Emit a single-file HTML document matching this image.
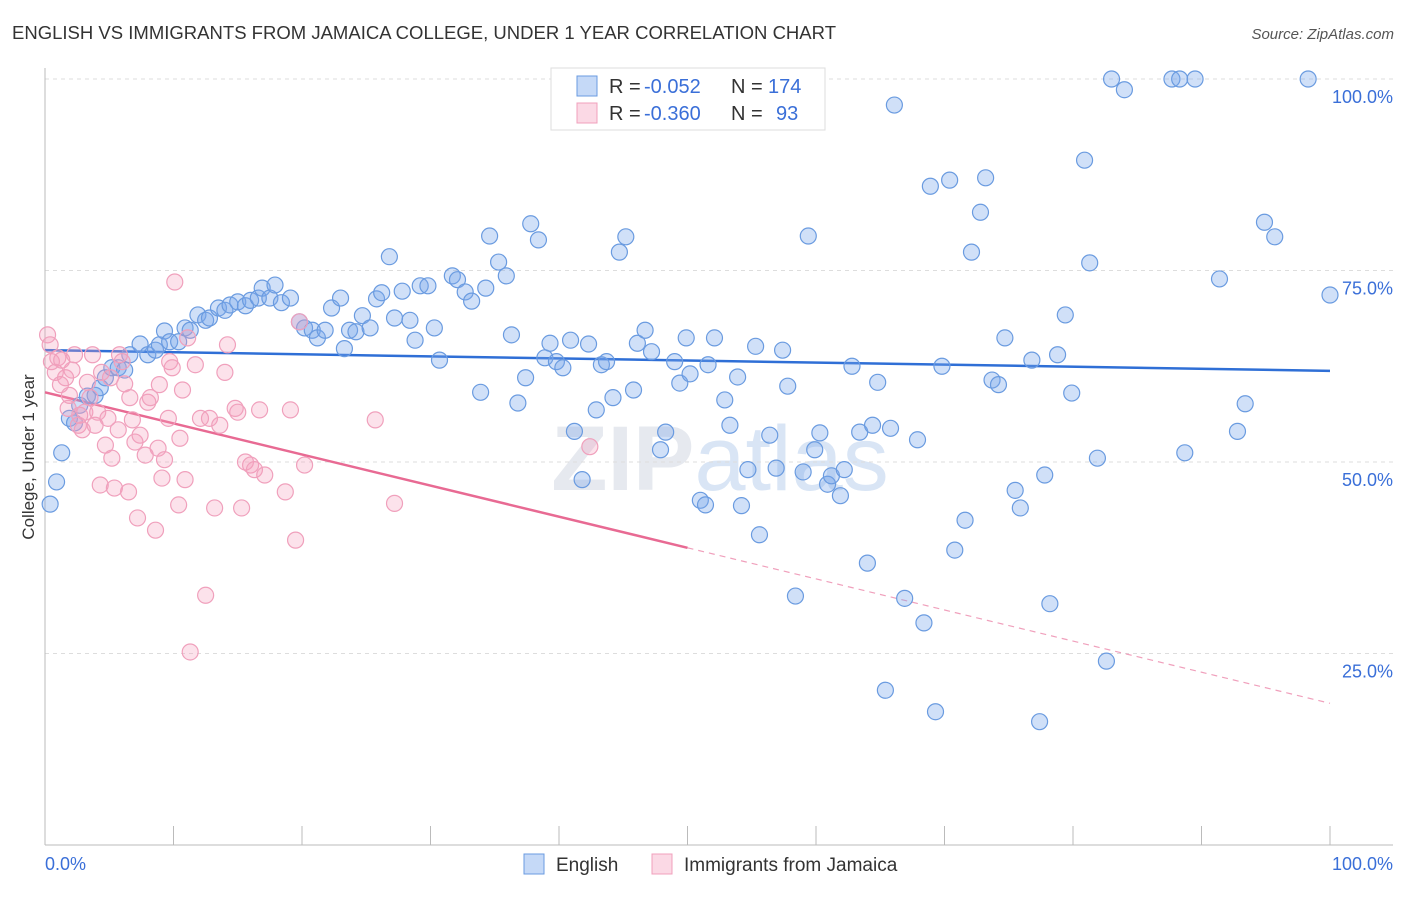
<!DOCTYPE html>
<html><head><meta charset="utf-8"><style>
body{margin:0;background:#fff;font-family:"Liberation Sans",sans-serif;}
svg text{font-family:"Liberation Sans",sans-serif;}
</style></head><body>
<svg id="chart" width="1406" height="892" viewBox="0 0 1406 892">
<text x="12" y="39" font-size="18" fill="#333" textLength="824" lengthAdjust="spacingAndGlyphs">ENGLISH VS IMMIGRANTS FROM JAMAICA COLLEGE, UNDER 1 YEAR CORRELATION CHART</text>
<text x="1394" y="39" font-size="15" fill="#555" font-style="italic" text-anchor="end">Source: ZipAtlas.com</text>
<text x="720" y="490" font-size="92" fill="#e6e9ef" text-anchor="middle" font-family="Liberation Serif" font-weight="bold">ZIP<tspan fill="#d9e5f5" font-family="Liberation Sans" font-weight="normal">atlas</tspan></text>
<g id="grid"></g><g id="axes"></g><g id="trend"></g><g id="pts"></g>
<text x="34" y="457" font-size="17" fill="#333" text-anchor="middle" transform="rotate(-90 34 457)">College, Under 1 year</text>
<g>
<rect x="551" y="68" width="274" height="62" fill="#fff" stroke="#ddd"/>
<rect x="577" y="76" width="20" height="20" fill="rgba(110,160,235,0.4)" stroke="#6a9be0"/>
<rect x="577" y="103" width="20" height="20" fill="rgba(245,160,190,0.4)" stroke="#f0a0bc"/>
<text x="609" y="93" font-size="20" fill="#333">R =</text>
<text x="644" y="93" font-size="20" fill="#3a6fd8">-0.052</text>
<text x="731" y="93" font-size="20" fill="#333">N =</text>
<text x="768" y="93" font-size="20" fill="#3a6fd8">174</text>
<text x="609" y="120" font-size="20" fill="#333">R =</text>
<text x="644" y="120" font-size="20" fill="#3a6fd8">-0.360</text>
<text x="731" y="120" font-size="20" fill="#333">N =</text>
<text x="776" y="120" font-size="20" fill="#3a6fd8">93</text>
</g>
<g>
<rect x="524" y="854" width="20" height="20" fill="rgba(110,160,235,0.4)" stroke="#6a9be0"/>
<text x="556" y="871" font-size="19" fill="#333">English</text>
<rect x="652" y="854" width="20" height="20" fill="rgba(245,160,190,0.4)" stroke="#f0a0bc"/>
<text x="684" y="871" font-size="19" fill="#333">Immigrants from Jamaica</text>
</g>
</svg>
<script>
const blueX=[0.4,0.9,1.3,1.9,2.3,2.7,3.3,3.9,4.3,4.7,5.2,5.7,6.2,6.6,7.4,8.0,8.6,8.9,9.3,9.7,10.4,10.9,11.3,11.9,12.5,12.8,13.5,14.0,14.4,15.0,15.6,16.0,16.6,16.9,17.5,17.9,18.4,19.1,19.8,20.2,20.8,21.2,21.8,22.3,23.0,23.3,23.7,24.2,24.7,25.3,25.8,26.2,26.8,27.2,27.8,28.4,28.8,29.2,29.8,30.3,30.7,31.7,32.1,32.7,33.2,33.9,34.3,34.6,35.3,35.9,36.3,36.8,37.4,37.8,38.4,38.9,39.3,39.8,40.3,40.9,41.2,41.8,42.3,42.9,43.3,43.7,44.2,44.7,45.2,45.8,46.1,46.7,47.2,47.9,48.3,49.0,49.4,49.9,50.2,51.0,51.4,51.6,52.1,52.9,53.3,53.9,54.2,54.7,55.3,55.6,56.4,56.9,57.4,57.8,58.4,59.0,59.4,59.9,60.3,60.9,61.2,61.9,62.2,62.8,63.4,64.0,64.4,64.8,65.4,65.8,66.1,66.9,67.9,68.4,68.9,69.3,69.8,70.4,70.8,71.6,72.1,72.8,73.2,73.7,74.2,74.7,75.5,75.9,76.8,77.4,77.8,78.2,78.8,79.4,79.9,80.9,81.3,81.9,82.6,83.0,84.0,87.7,88.3,88.7,89.5,91.4,92.8,93.4,94.9,95.7,98.3,100];
const blueY=[44.5,47.4,51.2,55.7,55.1,57.4,58.6,58.7,59.7,61.0,62.3,62.3,62.0,64.0,65.4,64.0,64.6,65.3,67.1,65.7,65.7,67.5,67.2,69.2,68.5,68.8,70.1,69.8,70.5,70.9,70.4,71.1,71.4,72.7,71.4,73.1,70.8,71.4,68.3,67.5,67.2,66.2,67.2,70.1,71.4,64.8,67.2,67.0,69.1,67.5,71.3,72.1,76.8,68.8,72.3,68.5,65.9,73.0,73.0,67.5,63.3,74.3,73.8,72.2,71.0,59.1,72.7,79.5,76.1,74.3,66.6,57.7,61.0,81.1,79.0,63.6,65.5,63.1,62.3,65.9,54.0,47.7,65.4,56.8,62.7,63.1,58.4,77.4,79.4,59.4,65.5,67.2,64.4,51.6,53.9,63.1,60.3,66.2,61.5,45.0,44.4,62.7,66.2,58.1,54.8,61.1,44.3,49.0,65.1,40.5,53.5,49.2,64.6,59.9,32.5,48.7,79.5,51.6,53.8,47.1,48.2,45.6,49.0,62.5,53.9,36.8,54.8,60.4,20.2,54.4,96.6,32.2,52.9,29.0,86.0,17.4,62.5,86.8,38.5,42.4,77.4,82.6,87.1,60.7,60.1,66.2,46.3,44.0,63.3,16.1,48.3,31.5,64.0,69.2,59.0,89.4,76.0,50.5,24.0,100,98.6,100,100,51.2,100,73.9,54.0,57.6,81.3,79.4,100,71.8];
const pinkX=[0.2,0.4,0.5,0.8,1.0,1.2,1.3,1.6,1.8,1.9,2.1,2.3,2.6,2.7,2.9,3.1,3.3,3.5,3.7,3.9,4.1,4.3,4.4,4.7,4.9,5.1,5.2,5.4,5.7,5.8,6.0,6.2,6.5,6.6,6.8,7.0,7.2,7.4,7.8,8.0,8.2,8.6,8.8,8.9,9.1,9.3,9.6,9.7,9.9,10.1,10.4,10.5,10.7,10.9,11.1,11.3,11.7,12.1,12.5,12.8,13.2,13.6,14.0,14.2,14.8,15.0,15.3,15.6,16.0,16.3,16.7,17.1,18.7,19.1,19.5,19.8,20.2,25.7,27.2,42.4];
const pinkY=[66.6,65.3,63.1,61.7,63.6,60.1,63.3,61.0,57.0,58.7,62.0,64.0,54.8,56.1,54.2,56.5,60.4,58.4,64.0,54.8,56.5,47.0,61.7,52.2,55.7,61.0,50.5,46.6,54.2,64.0,63.1,60.2,46.1,58.4,55.5,52.6,42.7,53.5,50.9,57.8,58.4,41.1,51.8,60.1,47.9,50.3,55.7,63.1,62.3,73.5,44.4,53.1,59.4,47.7,66.2,25.2,62.7,55.7,32.6,55.7,44.0,54.8,61.7,65.3,57.0,56.5,44.0,50.0,49.6,49.0,56.8,48.3,46.1,56.8,39.8,68.3,49.6,55.5,44.6,52.0];
const blueTrend=[64.6,61.9];
const pinkTrend=[59.1,18.5];
const pinkSolidEnd=50;
const yTicks=[100,75,50,25];
const yTickLabels=["100.0%","75.0%","50.0%","25.0%"];
const xTicks=[0,10,20,30,40,50,60,70,80,90,100];

const NS="http://www.w3.org/2000/svg";
const X=v=>45+v*12.85, Y=v=>845-v*7.66;
function mk(parent,tag,attrs){const e=document.createElementNS(NS,tag);for(const k in attrs)e.setAttribute(k,attrs[k]);document.getElementById(parent).appendChild(e);return e;}
yTicks.forEach((t,i)=>{
 const g=mk('grid','line',{x1:45,x2:1393,y1:Y(t),y2:Y(t),stroke:'#ddd','stroke-dasharray':'4 4'});
 
 
 const l=mk('axes','text',{x:1393,y:Y(t)+24,'font-size':18,fill:'#3a6fd8','text-anchor':'end'});
 l.textContent=yTickLabels[i];
 
 
});
const ya=mk('axes','line',{x1:45,x2:45,y1:68,y2:845,stroke:'#bbb'});


const xa=mk('axes','line',{x1:45,x2:1393,y1:845,y2:845,stroke:'#bbb'});


xTicks.forEach(t=>{
 const k=mk('axes','line',{x1:X(t),x2:X(t),y1:826,y2:845,stroke:'#bbb'});
 
 
});
const x0=mk('axes','text',{x:45,y:870,'font-size':18,fill:'#3a6fd8'});x0.textContent="0.0%";


const x1=mk('axes','text',{x:1393,y:870,'font-size':18,fill:'#3a6fd8','text-anchor':'end'});x1.textContent="100.0%";



blueX.forEach((v,i)=>{
 const c=mk('pts','circle',{cx:X(v),cy:Y(blueY[i]),r:8,fill:'rgba(120,165,235,0.35)',stroke:'#6a9be0','stroke-width':1.2});
 
 
});
pinkX.forEach((v,i)=>{
 const c=mk('pts','circle',{cx:X(v),cy:Y(pinkY[i]),r:8,fill:'rgba(245,160,190,0.3)',stroke:'#f0a0bc','stroke-width':1.2});
 
 
});
const pAt=x=>pinkTrend[0]+(pinkTrend[1]-pinkTrend[0])*x/100;
const bt=mk('trend','line',{x1:X(0),y1:Y(blueTrend[0]),x2:X(100),y2:Y(blueTrend[1]),stroke:'#2f6fd6','stroke-width':2.5});


const pt=mk('trend','line',{x1:X(0),y1:Y(pAt(0)),x2:X(pinkSolidEnd),y2:Y(pAt(pinkSolidEnd)),stroke:'#e86a93','stroke-width':2.5});


const pd=mk('trend','line',{x1:X(pinkSolidEnd),y1:Y(pAt(pinkSolidEnd)),x2:X(100),y2:Y(pAt(100)),stroke:'#f0a0bc','stroke-width':1.2,'stroke-dasharray':'6 5'});


</script>
</body></html>
